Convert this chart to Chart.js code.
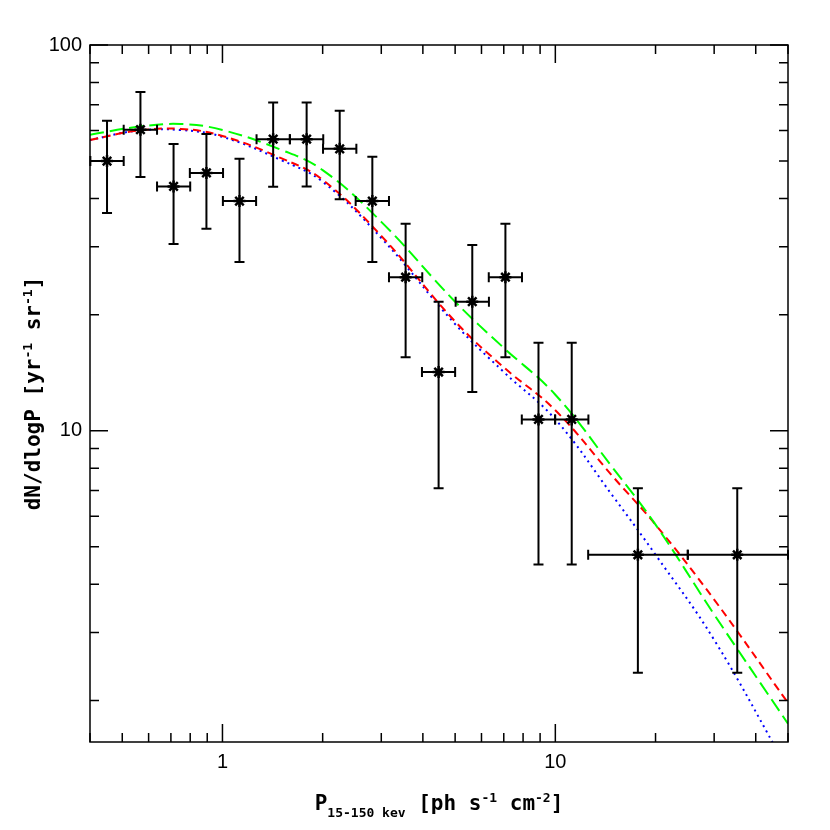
<!DOCTYPE html><html><head><script src="https://cdn.jsdelivr.net/npm/chart.js@4"></script>
<style>body{margin:0;background:#fff}</style></head><body>
<canvas id="c" width="830" height="830" style="width:830px;height:830px"></canvas>
<script>
const px=[0.45,0.567,0.713,0.895,1.125,1.42,1.79,2.25,2.82,3.55,4.46,5.63,7.08,8.9,11.2,17.7,35.2];
const py=[50,60.3,43,46.6,39.4,57,57,53.8,39.4,25,14.2,21.6,25,10.7,10.7,4.77,4.77];
const yHi=[63.6,75.5,55.4,58.8,50.7,71,71,67.5,51.3,34.4,21.6,30.3,34.4,16.9,16.9,7.1,7.1];
const yLo=[36.7,45.5,30.5,33.4,27.4,42.9,43,39.8,27.4,15.5,7.1,12.6,15.5,4.5,4.5,2.36,2.36];
const xLo=[0.401,0.505,0.636,0.798,1.003,1.266,1.595,2.005,2.513,3.164,3.975,5.018,6.31,7.93,9.98,12.55,25.0];
const xHi=[0.505,0.636,0.8,1.004,1.262,1.593,2.008,2.525,3.164,3.983,5.0,6.317,7.94,9.99,12.57,25.0,50];
const cx=[0.4,0.55,0.75,1,1.5,2,3,5,7,10,15,20,30,50];
const green=[58.5,61.3,62.4,60.2,53.5,47.4,34.8,21.6,16.4,12.4,7.94,5.71,3.34,1.74];
const red=[56.7,59.9,60.6,58.1,50.9,44.7,32.0,19.2,14.6,11.3,7.55,5.71,3.65,1.97];
const blue=[56.7,59.9,60.2,57.8,50.3,44.2,31.6,18.9,14.2,10.7,6.71,4.77,2.87,1.32];
const toXY=(xs,ys)=>xs.map((x,i)=>({x,y:ys[i]}));
const deco={id:'deco',afterDatasetsDraw(ch){
 const c=ch.ctx,a=ch.chartArea,X=ch.scales.x,Y=ch.scales.y;
 c.save();c.strokeStyle='#000';c.lineWidth=2;
 for(let i=0;i<px.length;i++){const x=X.getPixelForValue(px[i]),y=Y.getPixelForValue(py[i]);
  const y1=Y.getPixelForValue(yHi[i]),y2=Y.getPixelForValue(yLo[i]);
  const x1=X.getPixelForValue(xLo[i]),x2=X.getPixelForValue(xHi[i]);
  c.beginPath();c.moveTo(x,y1);c.lineTo(x,y2);c.moveTo(x1,y);c.lineTo(x2,y);
  c.moveTo(x-5,y1);c.lineTo(x+5,y1);c.moveTo(x-5,y2);c.lineTo(x+5,y2);
  c.moveTo(x1,y-5);c.lineTo(x1,y+5);c.moveTo(x2,y-5);c.lineTo(x2,y+5);c.stroke();}
 c.lineWidth=1.5;c.strokeRect(a.left,a.top,a.right-a.left,a.bottom-a.top);
 c.beginPath();
 for(let d=-1;d<2;d++)for(let m=1;m<10;m++){const v=m*Math.pow(10,d);if(v<X.min||v>X.max)continue;
  const x=X.getPixelForValue(v),L=m==1?18:9;c.moveTo(x,a.bottom);c.lineTo(x,a.bottom-L);c.moveTo(x,a.top);c.lineTo(x,a.top+L);}
 for(let d=0;d<3;d++)for(let m=1;m<10;m++){const v=m*Math.pow(10,d);if(v<Y.min||v>Y.max+0.01)continue;
  const y=Y.getPixelForValue(v),L=m==1?18:9;c.moveTo(a.left,y);c.lineTo(a.left+L,y);c.moveTo(a.right,y);c.lineTo(a.right-L,y);}
 c.stroke();
 c.fillStyle='#000';c.font='20px "Liberation Sans"';c.textAlign='center';c.textBaseline='top';
 [1,10].forEach(v=>c.fillText(String(v),X.getPixelForValue(v),a.bottom+10));
 c.textAlign='right';c.textBaseline='middle';
 [10,100].forEach(v=>c.fillText(String(v),a.left-8,Y.getPixelForValue(v)));
 const F='bold 21px "DejaVu Sans Mono"',S='bold 13px "DejaVu Sans Mono"';
 const draw=(parts,x0,y0)=>{let x=x0;parts.forEach(([t,f,dy])=>{c.font=f;c.fillText(t,x,y0+dy);x+=c.measureText(t).width;});return x-x0;};
 const xp=[['P',F,0],['15-150 kev',S,7],[' [ph s',F,0],['-1',S,-8],[' cm',F,0],['-2',S,-8],[']',F,0]];
 c.textAlign='left';c.textBaseline='alphabetic';
 let w=0;xp.forEach(([t,f])=>{c.font=f;w+=c.measureText(t).width;});
 draw(xp,(a.left+a.right)/2-w/2,810);
 const yp=[['dN/dlogP [yr',F,0],['-1',S,-8],[' sr',F,0],['-1',S,-8],[']',F,0]];
 w=0;yp.forEach(([t,f])=>{c.font=f;w+=c.measureText(t).width;});
 c.translate(40,(a.top+a.bottom)/2);c.rotate(-Math.PI/2);draw(yp,-w/2,0);
 c.restore();}};
const line=(d,col,dash)=>({type:'line',data:d,borderColor:col,borderWidth:2,borderDash:dash,pointRadius:0,tension:0.4,fill:false});
new Chart(document.getElementById('c'),{type:'scatter',data:{datasets:[
 {data:toXY(px,py),pointStyle:'star',radius:6,borderColor:'#000',backgroundColor:'#000',borderWidth:2.5},
 line(toXY(cx,green),'#00ff00',[14,6]),line(toXY(cx,red),'#ff0000',[8,5]),line(toXY(cx,blue),'#0000ff',[2,4])]},
 options:{responsive:false,animation:false,events:[],layout:{padding:{left:90,right:42,top:45,bottom:88}},
 plugins:{legend:{display:false},tooltip:{enabled:false}},
 scales:{x:{type:'logarithmic',min:0.4,max:50,display:false},y:{type:'logarithmic',min:1.56,max:100,display:false}}},
 plugins:[deco]});
</script></body></html>
